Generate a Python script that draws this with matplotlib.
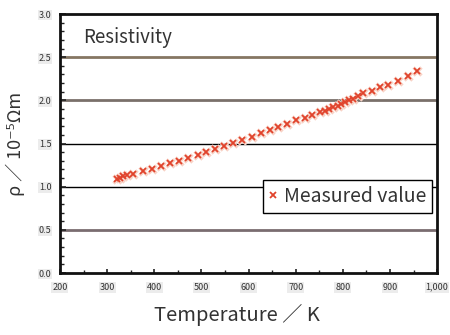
import matplotlib
matplotlib.use("Agg")
import matplotlib.pyplot as plt
from matplotlib.ticker import MultipleLocator, FuncFormatter

plt.rcParams['font.family'] = ['Noto Sans CJK JP', 'DejaVu Sans']

# Measured resistivity vs temperature
temperature_K = [322, 328, 334, 342, 355, 376, 395, 414, 433, 452, 472, 493,
                 510, 529, 548, 567, 586, 607, 626, 646, 663, 682, 701, 720,
                 735, 752, 762, 771, 780, 789, 797, 805, 813, 822, 832, 843,
                 862, 879, 896, 917, 938, 958]
resistivity = [1.09, 1.10, 1.12, 1.13, 1.15, 1.18, 1.21, 1.24, 1.27, 1.30,
               1.33, 1.37, 1.40, 1.44, 1.47, 1.51, 1.54, 1.58, 1.62, 1.66,
               1.69, 1.73, 1.77, 1.80, 1.83, 1.86, 1.88, 1.90, 1.92, 1.94,
               1.96, 1.98, 2.00, 2.02, 2.05, 2.08, 2.11, 2.15, 2.18, 2.23,
               2.28, 2.34]

grid_levels = [0.5, 1.0, 1.5, 2.0, 2.5]
grid_colors = ['#7a6c70', '#000000', '#000000', '#7a706a', '#857662']
grid_widths = [2.0, 1.0, 1.0, 2.0, 2.0]

fig = plt.figure(figsize=(4.5, 3.35), dpi=100)
ax = fig.add_axes([0.1333, 0.185, 0.838, 0.773])

for lvl, c, w in zip(grid_levels, grid_colors, grid_widths):
    ax.axhline(lvl, color=c, lw=w, zorder=1)

ax.plot(temperature_K, resistivity, linestyle='none', marker='x',
        color='#f8d2c6', markersize=5.5, markeredgewidth=2.4, zorder=2)
ax.plot(temperature_K, resistivity, linestyle='none', marker='x',
        color='#e0432c', markersize=4.3, markeredgewidth=1.3, zorder=3,
        label='Measured value')

ax.set_xlim(200, 1000)
ax.set_ylim(0, 3.0)
ax.xaxis.set_major_locator(MultipleLocator(100))
ax.xaxis.set_minor_locator(MultipleLocator(50))
ax.yaxis.set_major_locator(MultipleLocator(0.5))
ax.yaxis.set_minor_locator(MultipleLocator(0.1))
ax.xaxis.set_major_formatter(FuncFormatter(lambda v, p: f"{int(v):,}"))
ax.yaxis.set_major_formatter(FuncFormatter(lambda v, p: f"{v:.1f}"))

ax.tick_params(which='both', direction='in', color='#222222')
ax.tick_params(axis='y', which='major', length=4, width=1.2, labelsize=6.5,
               labelcolor='#333333', pad=6)
ax.tick_params(axis='y', which='minor', length=3, width=1.0)
ax.tick_params(axis='x', which='major', length=3, width=1.2, labelsize=6.5,
               labelcolor='#333333', pad=7)
ax.tick_params(axis='x', which='minor', length=2, width=1.0)
for lab in ax.get_xticklabels() + ax.get_yticklabels():
    lab.set_bbox(dict(facecolor='#ececec', edgecolor='none', pad=0.6))

for side in ['left', 'bottom', 'top', 'right']:
    ax.spines[side].set_color('#111111')
    ax.spines[side].set_linewidth(2.0)

ax.text(0.062, 0.91, 'Resistivity', transform=ax.transAxes, fontsize=13.5,
        color='#333333', ha='left', va='center')

ax.set_xlabel('Temperature ／ K', fontsize=14.5, color='#333333')
ax.xaxis.set_label_coords(0.47, -0.12)
ax.set_ylabel('ρ ／ 10⁻⁵Ωm', fontsize=13, color='#333333', labelpad=10)

leg = ax.legend(loc='lower right', bbox_to_anchor=(0.987, 0.233),
                fontsize=14, frameon=True, fancybox=False, framealpha=1,
                edgecolor='#000000', handlelength=0.5, handletextpad=0.3,
                borderpad=0.3, borderaxespad=0, labelcolor='#333333')
leg.get_frame().set_linewidth(1.0)
leg.set_zorder(5)

fig.savefig('out.png', dpi=100)
